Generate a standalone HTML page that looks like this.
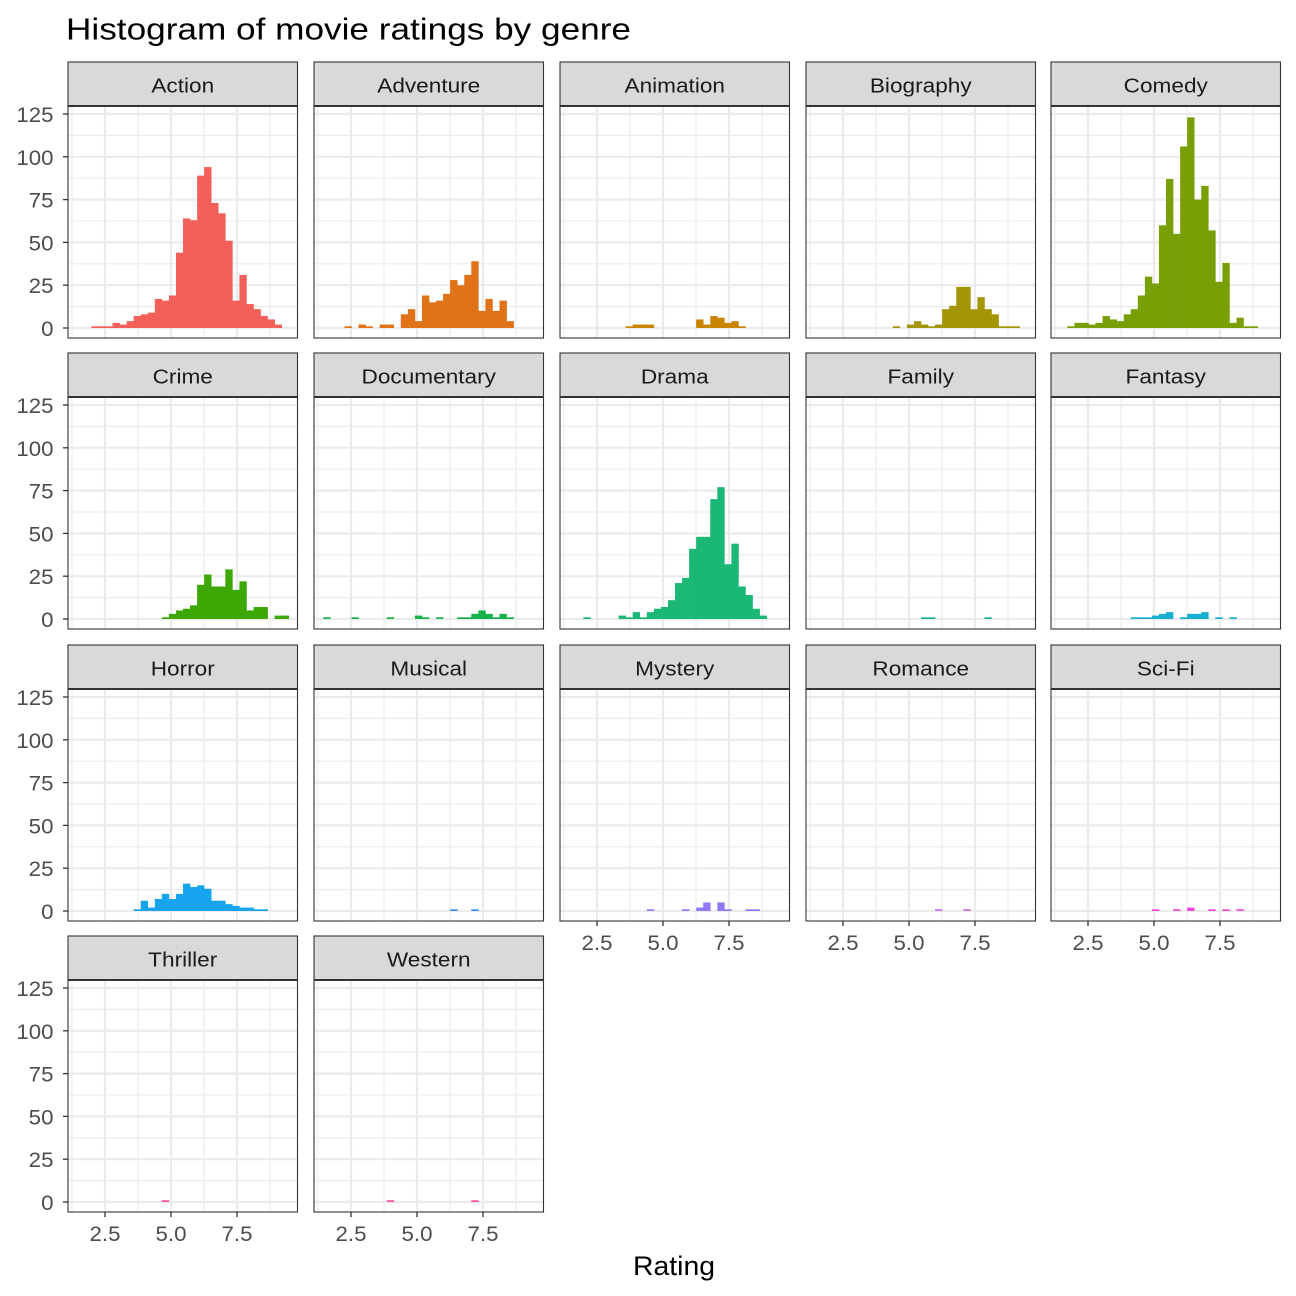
<!DOCTYPE html>
<html><head><meta charset="utf-8"><title>Histogram of movie ratings by genre</title>
<style>html,body{margin:0;padding:0;background:#fff}svg{display:block;font-family:"Liberation Sans",Arial,sans-serif}</style>
</head><body>
<svg id="chart" width="1296" height="1296" viewBox="0 0 1296 1296" xmlns="http://www.w3.org/2000/svg">
<rect width="1296" height="1296" fill="#fff"/>
<text x="66" y="39.5" font-size="30.5" fill="#000" textLength="565" lengthAdjust="spacingAndGlyphs">Histogram of movie ratings by genre</text>
<text x="674" y="1275" font-size="27" fill="#000" text-anchor="middle" textLength="82" lengthAdjust="spacingAndGlyphs">Rating</text>
</svg>
<script>
const genres = ["Action","Adventure","Animation","Biography","Comedy","Crime","Documentary","Drama","Family","Fantasy","Horror","Musical","Mystery","Romance","Sci-Fi","Thriller","Western"];
const colors = ["#F3605A","#E07218","#C98500","#A39506","#78A006","#3CA805","#15B14A","#1BB774","#18B59A","#17B0D0","#17A4EE","#3B8EF0","#9179F6","#C86BE6","#EE47D6","#FF4BA6","#FF4EA0"];
const binStart = 1.45;
const binWidth = 0.267;
const actionCounts = [0,0,1,1,1,3,2,4,7,8,9,17,16,19,44,64,63,89,94,73,67,51,16,31,14,11,7,5,2,0,0];
const adventureCounts = [0,0,0,1,0,2,1,0,2,2,0,8,11,4,19,15,16,20,28,25,31,39,10,17,10,16,4,0,0,0,0];
const animationCounts = [0,0,0,0,0,0,0,0,1,2,2,2,0,0,0,0,0,0,5,2,7,6,3,4,1,0,0,0,0,0,0];
const biographyCounts = [0,0,0,0,0,0,0,0,0,0,0,1,0,2,4,2,1,2,11,13,24,24,11,18,11,8,1,1,1,0,0];
const comedyCounts = [0,1,3,3,2,3,7,5,4,8,11,19,30,26,60,87,55,106,123,75,83,57,27,38,3,6,1,1,0,0,0];
const crimeCounts = [0,0,0,0,0,0,0,0,0,0,0,0,1,3,5,6,8,20,26,19,19,29,17,22,5,7,7,0,2,2,0];
const documentaryCounts = [1,0,0,0,1,0,0,0,0,1,0,0,0,2,1,0,1,0,0,1,1,3,5,3,1,3,1,0,0,0,0];
const dramaCounts = [0,0,1,0,0,0,0,2,1,4,1,4,6,7,11,21,24,41,48,48,70,77,32,44,19,14,6,2,0,0,0];
const familyCounts = [0,0,0,0,0,0,0,0,0,0,0,0,0,0,0,1,1,0,0,0,0,0,0,0,1,0,0,0,0,0,0];
const fantasyCounts = [0,0,0,0,0,0,0,0,0,0,1,1,1,2,3,4,0,1,3,3,4,0,1,0,1,0,0,0,0,0,0];
const horrorCounts = [0,0,0,0,0,0,0,0,1,6,2,7,10,7,10,16,14,15,13,6,6,4,3,2,2,1,1,0,0,0,0];
const musicalCounts = [0,0,0,0,0,0,0,0,0,0,0,0,0,0,0,0,0,0,1,0,0,1,0,0,0,0,0,0,0,0,0];
const mysteryCounts = [0,0,0,0,0,0,0,0,0,0,0,1,0,0,0,0,1,0,2,5,0,5,1,0,0,1,1,0,0,0,0];
const romanceCounts = [0,0,0,0,0,0,0,0,0,0,0,0,0,0,0,0,0,1,0,0,0,1,0,0,0,0,0,0,0,0,0];
const scifiCounts = [0,0,0,0,0,0,0,0,0,0,0,0,0,1,0,0,1,0,2,0,0,1,0,1,0,1,0,0,0,0,0];
const thrillerCounts = [0,0,0,0,0,0,0,0,0,0,0,0,1,0,0,0,0,0,0,0,0,0,0,0,0,0,0,0,0,0,0];
const westernCounts = [0,0,0,0,0,0,0,0,0,1,0,0,0,0,0,0,0,0,0,0,0,1,0,0,0,0,0,0,0,0,0];
const yTicks = [0,25,50,75,100,125];
const yTickLabels = ["0","25","50","75","100","125"];
const xTicks = [2.5,5.0,7.5];
const xTickLabels = ["2.5","5.0","7.5"];
const xMinor = [1.25,3.75,6.25,8.75];
const yMinor = [12.5,37.5,62.5,87.5,112.5];

const allCounts = [actionCounts,adventureCounts,animationCounts,biographyCounts,comedyCounts,crimeCounts,documentaryCounts,dramaCounts,familyCounts,fantasyCounts,horrorCounts,musicalCounts,mysteryCounts,romanceCounts,scifiCounts,thrillerCounts,westernCounts];

const NS = "http://www.w3.org/2000/svg";
const svg = document.getElementById("chart");
const colLeft = [68,314,560,806,1051];
const stripTop = [62,353,645,936];
const PW = 229.5, PH = 232, SH = 44;
function xs(r){ return 37 + (r - 2.5) * 26.4; }
function ys(v){ return 222 - v * 42.8 / 25; }
function mk(tag, attrs, parent){ const e=document.createElementNS(NS,tag); for(const k in attrs) e.setAttribute(k,attrs[k]); (parent||svg).appendChild(e); return e; }
function slug(s){ return s.toLowerCase().replace(/[^a-z0-9]+/g,'-'); }
function stretch(t, f){ const w=t.getComputedTextLength(); if(w>0){ t.setAttribute("textLength", (w*f).toFixed(1)); t.setAttribute("lengthAdjust","spacingAndGlyphs"); } }

genres.forEach((g,i)=>{
  const col=i%5, row=Math.floor(i/5);
  const L=colLeft[col], ST=stripTop[row], T=ST+SH;
  const grp=mk("g",{transform:`translate(${L},${T})`});
  
  
  mk("rect",{x:0,y:0,width:PW,height:PH,fill:"#fff"},grp);
  xMinor.forEach(v=>{ const l=mk("line",{x1:xs(v),x2:xs(v),y1:0,y2:PH,stroke:"#EBEBEB","stroke-width":1.1},grp);
      });
  yMinor.forEach(v=>{ const l=mk("line",{x1:0,x2:PW,y1:ys(v),y2:ys(v),stroke:"#EBEBEB","stroke-width":1.1},grp);
      });
  xTicks.forEach(v=>{ const l=mk("line",{x1:xs(v),x2:xs(v),y1:0,y2:PH,stroke:"#EBEBEB","stroke-width":2.2},grp);
      });
  yTicks.forEach(v=>{ const l=mk("line",{x1:0,x2:PW,y1:ys(v),y2:ys(v),stroke:"#EBEBEB","stroke-width":2.2},grp);
      });
  allCounts[i].forEach((c,k)=>{
    if(!c) return;
    const x0=xs(binStart+k*binWidth), x1=xs(binStart+(k+1)*binWidth);
    const b=mk("rect",{x:x0,y:ys(c),width:x1-x0+0.3,height:ys(0)-ys(c),fill:colors[i]},grp);
    
    
  });
  const border=mk("rect",{x:0,y:0,width:PW,height:PH,fill:"none",stroke:"#333","stroke-width":1.1},grp);
  
  
  const sg=mk("g",{transform:`translate(${L},${ST})`});
  
  
  mk("rect",{x:0,y:0,width:PW,height:SH,fill:"#D9D9D9",stroke:"#333","stroke-width":1.1},sg);
  mk("line",{x1:0,x2:PW,y1:SH,y2:SH,stroke:"#333","stroke-width":2},sg);
  const st=mk("text",{x:PW/2,y:30.5,"font-size":20,fill:"#1a1a1a","text-anchor":"middle"},sg);
  st.textContent=g;
  
  
  stretch(st,1.13);
  if(col===0){
    yTicks.forEach((v,j)=>{
      mk("line",{x1:L-5,x2:L,y1:T+ys(v),y2:T+ys(v),stroke:"#333","stroke-width":1.3});
      const t=mk("text",{x:L-14.5,y:T+ys(v)+8,"font-size":21,fill:"#4d4d4d","text-anchor":"end"});
      t.textContent=yTickLabels[j];
      
      
      stretch(t,1.06);
    });
  }
  const isBottom = (i+5>=genres.length);
  if(isBottom){
    xTicks.forEach((v,j)=>{
      mk("line",{x1:L+xs(v),x2:L+xs(v),y1:T+PH,y2:T+PH+5,stroke:"#333","stroke-width":1.3});
      const t=mk("text",{x:L+xs(v),y:T+PH+29,"font-size":21,fill:"#4d4d4d","text-anchor":"middle"});
      t.textContent=xTickLabels[j];
      
      
      stretch(t,1.06);
    });
  }
});
</script>
</body></html>
